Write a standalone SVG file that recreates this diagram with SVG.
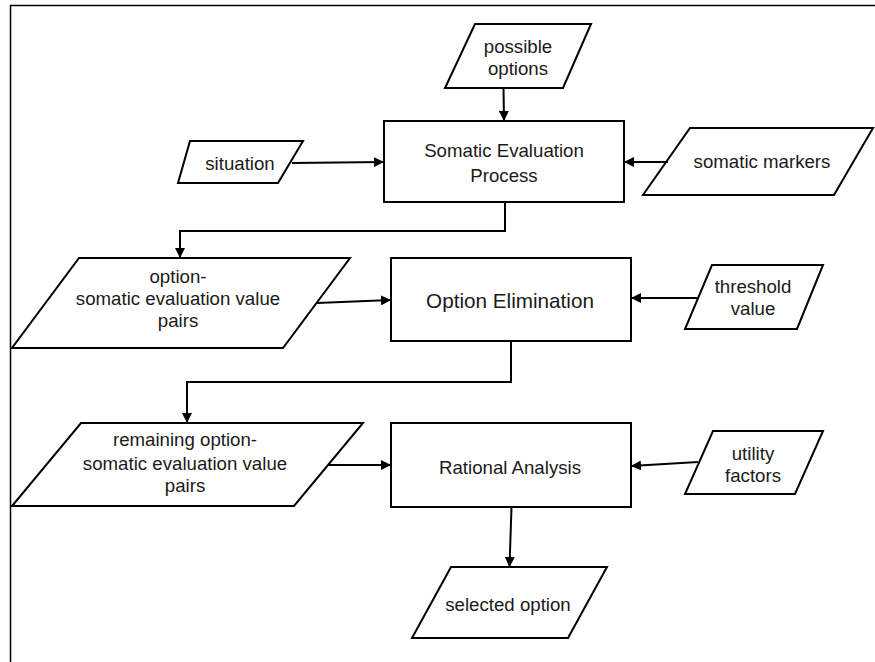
<svg xmlns="http://www.w3.org/2000/svg" width="875" height="662" viewBox="0 0 875 662">
<defs>
<marker id="arr" viewBox="0 0 10 10" refX="10" refY="5" markerWidth="10" markerHeight="10" markerUnits="userSpaceOnUse" orient="auto">
<path d="M0,0 L10,5 L0,10 Z" fill="#000"/>
</marker>
<style>
.shape{fill:#fff;stroke:#000;stroke-width:2}
.con{fill:none;stroke:#000;stroke-width:2;marker-end:url(#arr)}
text{font-family:"Liberation Sans",Arial,sans-serif;font-size:18.67px;fill:#1a1a1a;text-anchor:middle}
.big{font-size:20.7px}
</style>
</defs>
<rect width="875" height="662" fill="#fff"/>
<path d="M10.5,662 L10.5,5.5 L875,5.5" fill="none" stroke="#000" stroke-width="1.5"/>

<g id="possible-options">
<polygon class="shape" points="475,24 591,24 563,88 445,88"/>
<text x="518" y="53">possible</text>
<text x="518" y="75">options</text>
</g>
<g id="somatic-evaluation-process">
<rect class="shape" x="384" y="121" width="240" height="81"/>
<text x="504" y="157">Somatic Evaluation</text>
<text x="504" y="182">Process</text>
</g>
<g id="situation">
<polygon class="shape" points="190,141 303,141 278,183 178,183"/>
<text x="240" y="170">situation</text>
</g>
<g id="somatic-markers">
<polygon class="shape" points="690,128 873,128 834,195 643,195"/>
<text x="762" y="168">somatic markers</text>
</g>
<g id="option-pairs">
<polygon class="shape" points="79,258 350,258 283,348 12,348"/>
<text x="178" y="283">option-</text>
<text x="178" y="305">somatic evaluation value</text>
<text x="178" y="327">pairs</text>
</g>
<g id="option-elimination">
<rect class="shape" x="391" y="258" width="240" height="83"/>
<text class="big" x="510" y="308">Option Elimination</text>
</g>
<g id="threshold-value">
<polygon class="shape" points="712,265 823,265 797,329 685,329"/>
<text x="753" y="293">threshold</text>
<text x="753" y="315">value</text>
</g>
<g id="remaining-pairs">
<polygon class="shape" points="81,423 363,423 294,506 12,506"/>
<text x="185" y="446">remaining option-</text>
<text x="185" y="470">somatic evaluation value</text>
<text x="185" y="492">pairs</text>
</g>
<g id="rational-analysis">
<rect class="shape" x="391" y="423" width="240" height="84"/>
<text x="510" y="474">Rational Analysis</text>
</g>
<g id="utility-factors">
<polygon class="shape" points="713,431 823,431 795,494 685,494"/>
<text x="753" y="460">utility</text>
<text x="753" y="482">factors</text>
</g>
<g id="selected-option">
<polygon class="shape" points="451,567 607,567 568,638 412,638"/>
<text x="508" y="611">selected option</text>
</g>

<g id="connectors">
<path class="con" d="M503.5,88 L504,121"/>
<path class="con" d="M292,163 L384,162"/>
<path class="con" d="M668,162 L624,162"/>
<path class="con" d="M505,202 L505,231 L180,231 L180,258"/>
<path class="con" d="M317,303 L391,300"/>
<path class="con" d="M697,298 L631,298"/>
<path class="con" d="M511,341 L511,382 L187,382 L187,423"/>
<path class="con" d="M328,465 L391,465"/>
<path class="con" d="M698,462 L631,466"/>
<path class="con" d="M511.5,507 L509.5,567"/>
</g>
</svg>
